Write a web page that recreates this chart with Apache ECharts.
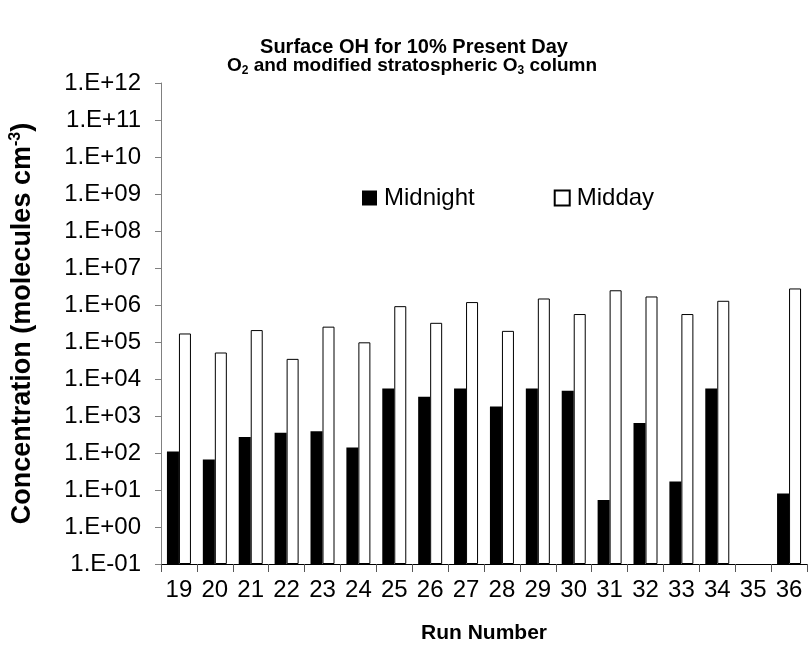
<!DOCTYPE html>
<html><head><meta charset="utf-8">
<script src="https://cdn.jsdelivr.net/npm/echarts@6/dist/echarts.min.js"></script>
<style>html,body{margin:0;padding:0;background:#fff}#c{width:808px;height:649px}</style>
</head><body><div id="c"></div>
<script>
const categories = ['19','20','21','22','23','24','25','26','27','28','29','30','31','32','33','34','35','36'];
const midnight = [110, 67, 270, 355, 390, 141, 5500, 3300, 5500, 1800, 5500, 4800, 5.4, 650, 17, 5500, null, 8.0];
const midday = [1.7e5, 5.2e4, 2.1e5, 3.5e4, 2.6e5, 9.8e4, 9.3e5, 3.3e5, 1.2e6, 2.0e5, 1.5e6, 5.7e5, 2.5e6, 1.7e6, 5.7e5, 1.3e6, null, 2.8e6];
const yTickLabels = ['1.E-01','1.E+00','1.E+01','1.E+02','1.E+03','1.E+04','1.E+05','1.E+06','1.E+07','1.E+08','1.E+09','1.E+10','1.E+11','1.E+12'];
const seriesNames = ['Midnight', 'Midday'];
const titleLine1 = 'Surface OH for 10% Present Day';

const FONT = 'Liberation Sans, Arial, sans-serif';
const chart = echarts.init(document.getElementById('c'), null, {renderer: 'canvas'});
chart.setOption({
  backgroundColor: '#fff',
  animation: false,
  textStyle: {fontFamily: FONT},
  title: [
    {text: titleLine1, left: 409, textAlign: 'center', top: 32,
     textStyle: {fontFamily: FONT, fontSize: 20, fontWeight: 'bold', color: '#000'}},
    {text: '{b|O}{s|2}{b| and modified stratospheric O}{s|3}{b| column}', left: 407, textAlign: 'center', top: 49,
     textStyle: {fontFamily: FONT, rich: {
       b: {fontFamily: FONT, fontSize: 19, fontWeight: 'bold', color: '#000', lineHeight: 23},
       s: {fontFamily: FONT, fontSize: 12, fontWeight: 'bold', color: '#000', lineHeight: 11, verticalAlign: 'bottom'}
     }}}
  ],
  legend: {
    left: 357, top: 181,
    itemWidth: 15, itemHeight: 15, itemGap: 79,
    icon: 'rect',
    data: seriesNames,
    textStyle: {fontFamily: FONT, fontSize: 24, color: '#000', padding: [0,0,0,2]}
  },
  grid: {left: 161, right: 1, top: 83, bottom: 84},
  xAxis: {
    type: 'category',
    data: categories,
    name: 'Run Number',
    nameLocation: 'middle',
    nameGap: 59,
    nameTextStyle: {fontFamily: FONT, fontSize: 21, fontWeight: 'bold', color: '#000'},
    axisLine: {lineStyle: {color: '#000', width: 1}},
    axisTick: {show: true, length: 8, lineStyle: {color: '#555'}},
    axisLabel: {fontFamily: FONT, fontSize: 24, color: '#000', margin: 14},
    splitLine: {show: false}
  },
  yAxis: {
    type: 'log',
    logBase: 10,
    min: 0.1,
    max: 1e12,
    startValue: 0.1,
    splitNumber: 13,
    interval: 1,
    name: '{b|Concentration (molecules cm}{s|-3}{b|)}',
    nameLocation: 'middle',
    nameRotate: 90,
    nameGap: 123,
    nameTextStyle: {rich: {
      b: {fontFamily: FONT, fontSize: 27, fontWeight: 'bold', color: '#000', lineHeight: 30},
      s: {fontFamily: FONT, fontSize: 16, fontWeight: 'bold', color: '#000', lineHeight: 14, verticalAlign: 'top'}
    }},
    axisLine: {show: true, lineStyle: {color: '#808080', width: 1}},
    axisTick: {show: true, length: 6, lineStyle: {color: '#808080'}},
    axisLabel: {fontFamily: FONT, fontSize: 24, color: '#000', margin: 20,
      formatter: function (v) { const e = Math.round(Math.log10(v)); return yTickLabels[e + 1] || ''; }},
    splitLine: {show: false},
    minorTick: {show: false}
  },
  series: [
    {name: seriesNames[0], type: 'bar', data: midnight, barWidth: 12, barGap: '0%',
     itemStyle: {color: '#000', borderColor: '#000', borderWidth: 0}},
    {name: seriesNames[1], type: 'bar', data: midday, barWidth: 12, barGap: '0%',
     itemStyle: {color: '#fff', borderColor: '#000', borderWidth: 1}}
  ]
});
</script></body></html>
